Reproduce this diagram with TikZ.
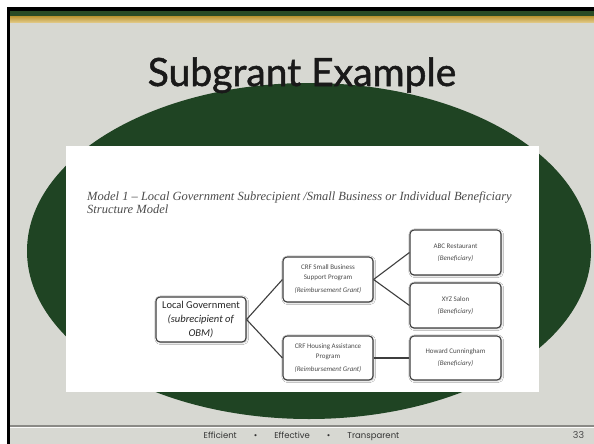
\documentclass[tikz,border=0pt]{standalone}
\usepackage{fontspec}
\usetikzlibrary{shapes,arrows.meta,positioning,shadows.blur}
\setmainfont{Carlito}
\newfontfamily\titlefont[FakeBold=1.3]{Lato}
\newfontfamily\footfont{Poppins}
\newfontfamily\docfont{Liberation Serif}
\definecolor{ovalgreen}{HTML}{1F4423}
\definecolor{bandgreen}{HTML}{294B25}
\definecolor{bandgold}{HTML}{D5AE45}
\definecolor{slidegrey}{HTML}{D7D8D2}
\definecolor{boxline}{HTML}{3E3E3E}
\definecolor{footgrey}{HTML}{8A8A86}

\begin{document}
\begin{tikzpicture}[x=1pt, y=-1pt,
  box/.style={rectangle, draw=boxline, line width=1.1pt, rounded corners=4pt, fill=white, minimum width=90pt, minimum height=45pt, align=center, inner sep=2pt, text=black!70, font=\fontsize{7}{10}\selectfont,
    blur shadow={shadow blur steps=4, shadow xshift=0.7pt, shadow yshift=-0.7pt, shadow opacity=30}},
  link/.style={line width=1.1pt, boxline}
]
  \useasboundingbox (0,0) rectangle (594,444);
  % slide frame
  \fill[white] (0,0) rectangle (594,444);
  \fill[slidegrey] (10,11) rectangle (594,444);
  \fill[black] (7,7) rectangle (594,11);
  \fill[black] (7,7) rectangle (10,444);
  \fill[bandgreen] (10,11) rectangle (594,17);
  \shade[top color=bandgold!90!black, bottom color=bandgold!60!white] (10,17) rectangle (594,23);
  \fill[ovalgreen] (309,251) ellipse [x radius=282pt, y radius=168pt];

  \node[font=\titlefont\fontsize{39}{46}\selectfont, anchor=base, text=black!90] (title) at (302,86) {Subgrant Example};

  % pasted model page
  \fill[white] (66,146) rectangle (539,392);
  \node[font=\docfont\itshape\fontsize{12.5}{14}\selectfont, text=black!70, anchor=base west, inner sep=0] (caption) at (87,200) {Model 1 – Local Government Subrecipient /Small Business or Individual Beneficiary};
  \node[font=\docfont\itshape\fontsize{12.5}{14}\selectfont, text=black!70, anchor=base west, inner sep=0] (caption2) at (87,213) {Structure Model};

  \node[box, font=\fontsize{10.5}{14}\selectfont, text=black!85] (gov) at (201,319.5) {Local Government\\\textit{(subrecipient of}\\\textit{OBM)}};
  \node[box] (smallbiz) at (328,279.5) {CRF Small Business\\Support Program\\[3pt]\textit{(Reimbursement Grant)}};
  \node[box, minimum height=44pt] (housing) at (328,358) {CRF Housing Assistance\\Program\\[3pt]\textit{(Reimbursement Grant)}};
  \node[box, minimum width=91pt, font=\fontsize{7}{12}\selectfont] (abc) at (455.5,252.5) {ABC Restaurant\\\textit{(Beneficiary)}};
  \node[box, minimum width=91pt, font=\fontsize{7}{12}\selectfont] (xyz) at (455.5,305.5) {XYZ Salon\\\textit{(Beneficiary)}};
  \node[box, minimum width=91pt, minimum height=44pt, font=\fontsize{7}{12}\selectfont] (howard) at (455.5,358) {Howard Cunningham\\\textit{(Beneficiary)}};

  \draw[link] (gov.east) -- (smallbiz.west);
  \draw[link] (gov.east) -- (housing.west);
  \draw[link] (smallbiz.east) -- (abc.west);
  \draw[link] (smallbiz.east) -- (xyz.west);
  \draw[link] (housing.east) -- (howard.west);

  % footer
  \draw[line width=1.5pt, footgrey] (10,426) -- (594,426);
  \draw[line width=0.6pt, white!90!slidegrey] (10,427.6) -- (594,427.6);
  \node[font=\footfont\fontsize{8.5}{10}\selectfont, anchor=base, text=black!80] (motto) at (301.5,438) {Efficient\hspace{17pt}•\hspace{17pt}Effective\hspace{17pt}•\hspace{17pt}Transparent};
  \node[font=\footfont\fontsize{9.5}{12}\selectfont, anchor=base, text=black!70] (pagenum) at (578.5,438) {33};
\end{tikzpicture}
\end{document}
